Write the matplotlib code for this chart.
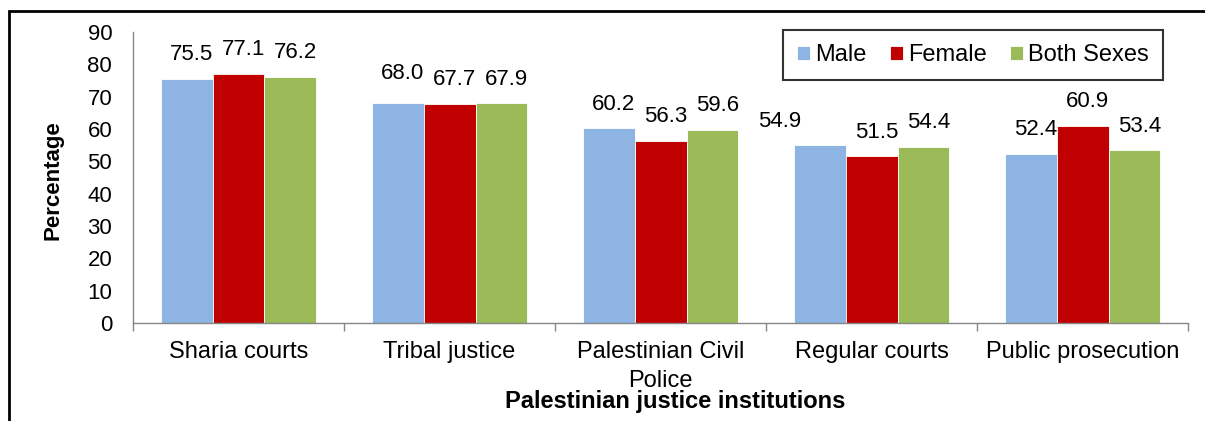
import numpy as np
import matplotlib
matplotlib.use('Agg')
import matplotlib.pyplot as plt
from matplotlib.patches import Rectangle

# data
institutions = ['Sharia courts', 'Tribal justice', 'Palestinian Civil\nPolice',
                'Regular courts', 'Public prosecution']
male = [75.5, 68.0, 60.2, 54.9, 52.4]
female = [77.1, 67.7, 56.3, 51.5, 60.9]
both_sexes = [76.2, 67.9, 59.6, 54.4, 53.4]
series_names = ['Male', 'Female', 'Both Sexes']
y_ticks = list(range(0, 100, 10))

colors = ['#8EB4E3', '#C00000', '#9BBB59']

# label nudges (points) where the source placed labels off the usual spot
label_nudge = {(0, 3): (-32, 0), (0, 1): (0, 4)}

plt.rcParams['font.family'] = ['Liberation Sans', 'DejaVu Sans']

fig = plt.figure(figsize=(12.05, 4.21), dpi=100)
ax = fig.add_axes([0.1104, 0.2328, 0.8756, 0.6912])

x = np.arange(len(institutions))
width = 0.246
for i, (name, vals) in enumerate(zip(series_names, [male, female, both_sexes])):
    pos = x + (i - 1) * width
    ax.bar(pos, vals, width, color=colors[i], edgecolor='white', linewidth=0.6,
           label=name, zorder=2)
    for j, (px, v) in enumerate(zip(pos, vals)):
        dx, dy = label_nudge.get((i, j), (0, 0))
        ax.annotate(f'{v:.1f}', (px, v), xytext=(3.5 + dx, 17.5 + dy),
                    textcoords='offset points', ha='center', va='center',
                    fontsize=16)

ax.set_xlim(-0.5, len(institutions) - 0.5)
ax.set_ylim(0, 90)
ax.set_yticks(y_ticks)
ax.tick_params(axis='y', length=0, pad=15, labelsize=16)
ax.set_xticks(x)
ax.set_xticklabels(institutions, fontsize=17, linespacing=1.4)
ax.set_xticks(np.arange(-0.5, len(institutions), 1), minor=True)
ax.tick_params(axis='x', which='major', length=0, pad=13)
ax.tick_params(axis='x', which='minor', length=6, color='#868686', width=1)

for s in ['top', 'right']:
    ax.spines[s].set_visible(False)
for s in ['left', 'bottom']:
    ax.spines[s].set_color('#868686')
    ax.spines[s].set_linewidth(1)

ax.set_ylabel('Percentage', fontsize=16, fontweight='bold', va='center')
ax.yaxis.set_label_coords(-0.0758, 0.491)
ax.set_xlabel('Palestinian justice institutions', fontsize=17, fontweight='bold',
              va='center')
ax.xaxis.set_label_coords(0.514, -0.271)

leg = ax.legend(loc='upper right', bbox_to_anchor=(0.976, 1.007), ncol=3,
                fontsize=17, frameon=True, fancybox=False, handlelength=0.55,
                handleheight=0.55, handletextpad=0.2, columnspacing=1.0,
                borderpad=0.6, borderaxespad=0)
leg.get_frame().set_edgecolor('black')
leg.get_frame().set_linewidth(1.5)

# outer chart border, cut off at top-right like the source
fig.add_artist(Rectangle((9 / 1205, -0.05), 1.1, 1 - 11 / 421 + 0.05,
                         transform=fig.transFigure, fill=False,
                         edgecolor='black', linewidth=2, clip_on=False))

fig.savefig('out.png', dpi=100)
